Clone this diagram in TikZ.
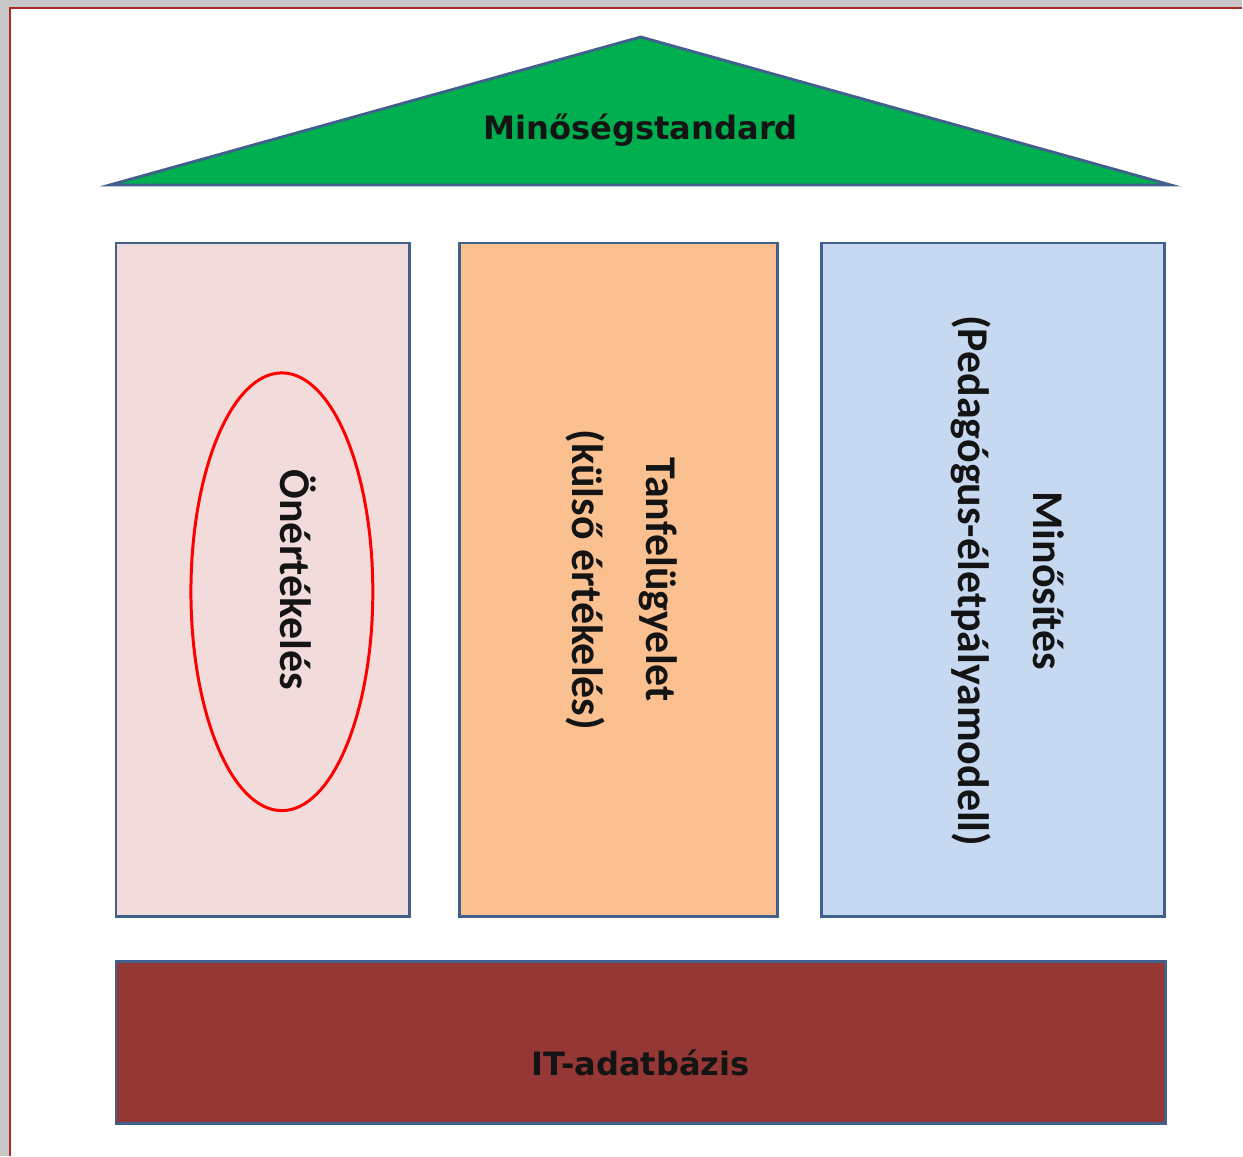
\documentclass[tikz,border=0pt]{standalone}
\usepackage{fontspec}
\usepackage{tikz}
\usetikzlibrary{shapes.geometric}
\newfontfamily\verdfont{DejaVu Sans}
\newfontfamily\calfont{Carlito}

\definecolor{screengray}{RGB}{200,200,200}
\definecolor{edgered}{RGB}{170,40,40}
\definecolor{frameblue}{RGB}{65,96,140}
\definecolor{roofgreen}{RGB}{0,176,80}
\definecolor{pinkcol}{RGB}{242,220,219}
\definecolor{orangecol}{RGB}{250,192,144}
\definecolor{bluecol}{RGB}{198,217,241}
\definecolor{basered}{RGB}{149,55,53}
\definecolor{inktext}{RGB}{20,20,20}

\begin{document}
\begin{tikzpicture}[x=0.02cm,y=-0.02cm,
  pillar/.style={draw=frameblue, line width=1.6pt, inner sep=0pt},
  bigtitle/.style={font=\verdfont\bfseries\fontsize{18.3}{22}\selectfont, text=inktext},
  colname/.style={font=\calfont\bfseries\fontsize{25}{42.5}\selectfont, rotate=-90, align=center, text=inktext}]

\fill[screengray] (0,0) rectangle (1243,1156);
\fill[white] (10,8) rectangle (1243,1156);
\draw[edgered, line width=0.6pt] (10,1156) -- (10,8) -- (1243,8);
\useasboundingbox (0,0) rectangle (1243,1156);

% roof
\draw[pillar, fill=roofgreen] (110,185) -- (641,37) -- (1171,185) -- cycle;
\node[bigtitle] (roof) at (641,130) {Minőségstandard};

% pillars
\node[pillar, fill=pinkcol, minimum width=5.88cm, minimum height=13.48cm] (p1) at (263,580) {};
\node[pillar, fill=orangecol, minimum width=6.36cm, minimum height=13.48cm] (p2) at (619,580) {};
\node[pillar, fill=bluecol, minimum width=6.86cm, minimum height=13.48cm] (p3) at (993.5,580) {};

\node[ellipse, draw=red, line width=1.7pt, minimum width=3.64cm, minimum height=8.76cm] (ring) at (282,592) {};
\node[colname] (t1) at (298,580) {Önértékelés};
\node[colname] (t2) at (622,580) {Tanfelügyelet\\(külső értékelés)};
\node[colname] (t3) at (1008,581) {Minősítés\\(Pedagógus-életpályamodell)};

% base
\node[pillar, fill=basered, minimum width=21cm, minimum height=3.24cm] (base) at (641,1043) {};
\node[bigtitle] (db) at (641,1063) {IT-adatbázis};
\end{tikzpicture}
\end{document}
